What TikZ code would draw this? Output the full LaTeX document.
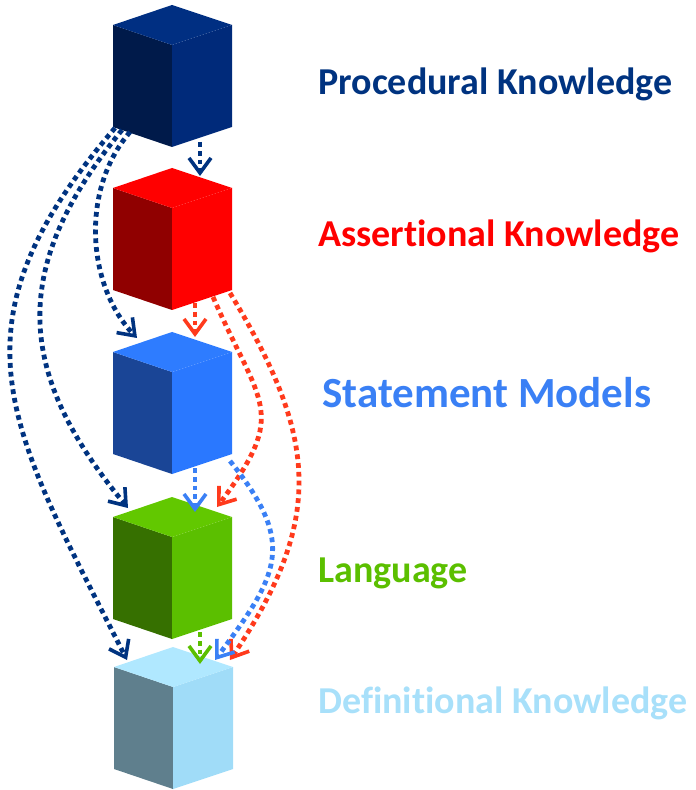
\documentclass[tikz,border=0pt]{standalone}
\usepackage{fontspec}
\setmainfont{Carlito}[Ligatures=NoCommon]
\usetikzlibrary{arrows.meta}
\definecolor{procdark}{HTML}{001A4A}
\definecolor{procmid}{HTML}{002A7A}
\definecolor{proctop}{HTML}{002F82}
\definecolor{procline}{HTML}{003380}
\definecolor{assdark}{HTML}{900000}
\definecolor{assmid}{HTML}{FF0000}
\definecolor{assline}{HTML}{FF3A1C}
\definecolor{stmdark}{HTML}{1A4596}
\definecolor{stmmid}{HTML}{2A78FF}
\definecolor{stmtop}{HTML}{2E7CFF}
\definecolor{stmline}{HTML}{3A80F5}
\definecolor{langdark}{HTML}{367000}
\definecolor{langmid}{HTML}{5BBF00}
\definecolor{langtop}{HTML}{62C800}
\definecolor{defdark}{HTML}{5F7F8D}
\definecolor{defmid}{HTML}{A0DCF8}
\definecolor{deftop}{HTML}{B0E8FF}
\definecolor{deftext}{HTML}{A8E0FA}
\tikzstyle{dep}=[line width=2.4pt, dash pattern=on 2.4pt off 2pt, -{Straight Barb[length=7.5pt,width=11pt,line width=1.8pt]}]
\tikzset{
    layer/.style={anchor=base west, inner sep=0pt, font=\fontsize{19}{22}\selectfont\bfseries}
}
% cube: name, x, y of top vertex, left, right, top face
\newcommand{\drawcube}[6]{%
  \begin{scope}[shift={(#2,#3)}]
    \fill[#4] (-59,20) -- (0,40) -- (0,142) -- (-59,122) -- cycle;
    \fill[#5] (0,40) -- (60,20) -- (60,122) -- (0,142) -- cycle;
    \fill[#6] (0,0) -- (60,20) -- (0,40) -- (-59,20) -- cycle;
    \node[inner sep=0pt] (#1) at (0,71) {};
  \end{scope}}

\begin{document}
\begin{tikzpicture}[x=0.5pt, y=-0.5pt]
  \useasboundingbox (0,0) rectangle (695,790);

  \drawcube{proc}{172}{5}{procdark}{procmid}{proctop}
  \drawcube{ass}{172}{168}{assdark}{assmid}{assmid}
  \drawcube{stm}{172}{332}{stmdark}{stmmid}{stmtop}
  \drawcube{lang}{172}{497}{langdark}{langmid}{langtop}
  \drawcube{def}{173}{647}{defdark}{defmid}{deftop}

  \node[layer, text=procline] (procl) at (318,95) {Procedural Knowledge};
  \node[layer, text=assmid] (assl) at (318,247) {Assertional Knowledge};
  \node[layer, text=stmline, font=\fontsize{21.5}{24}\selectfont\bfseries] (stml) at (322,407) {Statement Models};
  \node[layer, text=langmid] (langl) at (318,582) {Language};
  \node[layer, text=deftext] (defl) at (318,713) {Definitional Knowledge};

  % procedural
  \draw[dep, procline] ([shift={(28,66)}]proc.center) -- ([shift={(28,-63)}]ass.center);
  \draw[dep, procline] ([shift={(-42,56)}]proc.center) .. controls +(-50,58) and +(-50,-52) .. ([shift={(-35,-65)}]stm.center);
  \draw[dep, procline] ([shift={(-50,54)}]proc.center) .. controls +(-112,137) and +(-114,-137) .. ([shift={(-44,-60)}]lang.center);
  \draw[dep, procline] ([shift={(-57,52)}]proc.center) .. controls +(-172,200) and +(-119,-235) .. ([shift={(-46,-58)}]def.center);

  % assertional
  \draw[dep, assline] ([shift={(23,64)}]ass.center) -- ([shift={(23,-66)}]stm.center);
  \draw[dep, assline] ([shift={(41,58)}]ass.center) .. controls +(48,110) and +(72,-96) .. ([shift={(45,-61)}]lang.center);
  \draw[dep, assline] ([shift={(58,54)}]ass.center) .. controls +(88,145) and +(95,-141) .. ([shift={(57,-58)}]def.center);

  % statement models
  \draw[dep, stmline] ([shift={(23,65)}]stm.center) -- ([shift={(23,-56)}]lang.center);
  \draw[dep, stmline] ([shift={(58,58)}]stm.center) .. controls +(67,83) and +(64,-86) .. ([shift={(42,-58)}]def.center);

  % language
  \draw[dep, langmid] ([shift={(28,64)}]lang.center) -- ([shift={(27,-54)}]def.center);
\end{tikzpicture}
\end{document}
